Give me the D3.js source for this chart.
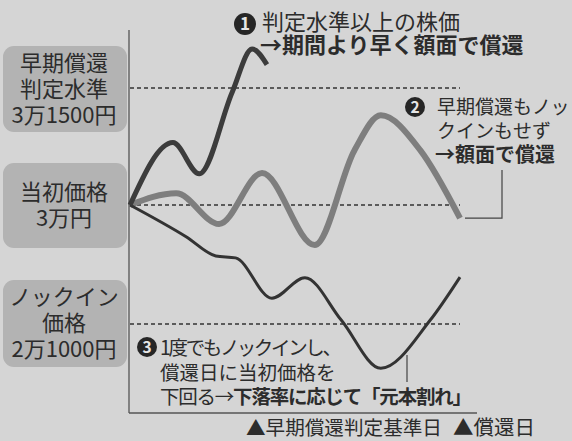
<!DOCTYPE html>
<html>
<head>
<meta charset="utf-8">
<script src="https://cdn.jsdelivr.net/npm/d3@7"></script>
<style>
  html, body { margin: 0; padding: 0; background: #d5d5d5; }
  svg { display: block; font-family: "Noto Sans CJK JP", "Noto Sans", sans-serif; }
</style>
</head>
<body>
<div id="chart"></div>
<script>
// price levels (yen) shown as dashed reference lines
const levels = [31500, 30000, 21000];
const levelLabels = [
  ["早期償還", "判定水準", "3万1500円"],
  ["当初価格", "3万円"],
  ["ノックイン", "価格", "2万1000円"]
];

// time index 0..100 (start -> redemption day)
const t1 = [0, 13, 21, 31, 37, 41.5];
const v1 = [30000, 30800, 30400, 31450, 32000, 31800];

const t2 = [0, 14, 27, 40, 56, 68, 76, 88, 100];
const v2 = [30000, 30150, 28560, 30410, 26970, 30700, 31150, 30700, 29000];

const t3 = [0, 17, 26, 32, 43, 53, 64, 76, 91, 100];
const v3 = [30000, 27600, 26150, 26000, 22950, 24500, 21300, 17650, 21300, 24550];

const W = 572, H = 441;
const ink = "#2c2c2c";

const svg = d3.select("#chart").append("svg")
    .attr("width", W)
    .attr("height", H);

const x = d3.scaleLinear().domain([0, 100]).range([130, 460]);
// schematic chart: each band has its own spacing
const y = d3.scaleLinear().domain([21000, 30000, 31500]).range([324, 205, 88]);

// --- left label boxes ---
const boxes = [
  { y0: 46, y1: 132, lines: levelLabels[0] },
  { y0: 163, y1: 248, lines: levelLabels[1] },
  { y0: 280, y1: 367, lines: levelLabels[2] }
];
boxes.forEach(b => {
  svg.append("rect")
      .attr("x", 3).attr("y", b.y0)
      .attr("width", 124).attr("height", b.y1 - b.y0)
      .attr("rx", 11)
      .attr("fill", "#b3b3b3");
  const n = b.lines.length;
  const mid = (b.y0 + b.y1) / 2;
  b.lines.forEach((s, i) => {
    svg.append("text")
        .attr("x", 64)
        .attr("y", mid + (i - (n - 1) / 2) * 26)
        .attr("dy", "0.36em")
        .attr("text-anchor", "middle")
        .attr("font-size", 22)
        .attr("fill", ink)
        .text(s);
  });
});

// --- axes frame ---
svg.append("line")
    .attr("x1", 129).attr("x2", 129)
    .attr("y1", 30).attr("y2", 413)
    .attr("stroke", "#555").attr("stroke-width", 1.3);
svg.append("line")
    .attr("x1", 129).attr("x2", 477)
    .attr("y1", 413).attr("y2", 413)
    .attr("stroke", "#555").attr("stroke-width", 1.3);

// dashed reference lines
svg.append("g").selectAll("line")
  .data(levels)
  .enter().append("line")
    .attr("x1", x(0)).attr("x2", x(100))
    .attr("y1", d => y(d)).attr("y2", d => y(d))
    .attr("stroke", "#333")
    .attr("stroke-width", 1.3)
    .attr("stroke-dasharray", "4,3");

// --- price paths ---
const line = d3.line()
    .x(d => x(d[0]))
    .y(d => y(d[1]))
    .curve(d3.curveMonotoneX);

const series = [
  { t: t2, v: v2, color: "#7e7e7e", w: 6 },
  { t: t3, v: v3, color: "#333", w: 3 },
  { t: t1, v: v1, color: "#3c3c3c", w: 5 }
];
series.forEach(s => {
  svg.append("path")
      .datum(s.t.map((t, i) => [t, s.v[i]]))
      .attr("d", line)
      .attr("fill", "none")
      .attr("stroke", s.color)
      .attr("stroke-width", s.w)
      .attr("stroke-linecap", "butt");
});

// --- annotations ---
function badge(cx, cy, n, r) {
  svg.append("circle").attr("cx", cx).attr("cy", cy).attr("r", r).attr("fill", "#262626");
  svg.append("text")
      .attr("x", cx).attr("y", cy)
      .attr("dy", "0.36em")
      .attr("text-anchor", "middle")
      .attr("font-size", r * 1.55)
      .attr("font-weight", 700)
      .attr("fill", "#e6e6e6")
      .text(n);
}

function note(x0, y0, parts, size, extra) {
  const t = svg.append("text")
      .attr("x", x0).attr("y", y0)
      .attr("dy", "0.36em")
      .attr("font-size", size)
      .attr("fill", ink);
  if (extra) extra(t);
  parts.forEach(p => {
    t.append("tspan")
        .attr("font-weight", p[1] ? 700 : 400)
        .text(p[0]);
  });
}

// 1
badge(245, 24, "1", 11);
note(262, 22, [["判定水準以上の株価", false]], 22);
note(260, 45, [["→期間より早く額面で償還", true]], 22);

// 2
badge(415, 107, "2", 10);
note(437, 107, [["早期償還もノッ", false]], 19);
note(437, 131, [["クインもせず", false]], 19);
note(435, 155, [["→額面で償還", true]], 20);

// leader for 2
const end2 = [x(100), y(v2[v2.length - 1])];
svg.append("path")
    .attr("d", `M502,170 V${end2[1]} H${end2[0] + 5}`)
    .attr("fill", "none")
    .attr("stroke", "#444")
    .attr("stroke-width", 1.2);

// 3
badge(147, 347, "3", 10);
note(160, 348, [["1度でもノックインし、", false]], 19.5, t => t.attr("textLength", 182));
note(160, 373, [["償還日に当初価格を", false]], 19.5);
note(160, 397, [["下回る→", false], ["下落率に応じて「元本割れ」", true]], 19.5, t => t.attr("textLength", 312));

// leader for 3
svg.append("line")
    .attr("x1", 407).attr("x2", 407)
    .attr("y1", 355).attr("y2", 382)
    .attr("stroke", "#444")
    .attr("stroke-width", 1.2);

// bottom date labels
note(246, 428, [["▲早期償還判定基準日", false]], 19.6);
note(453, 428, [["▲償還日", false]], 20.5);
</script>
</body>
</html>
